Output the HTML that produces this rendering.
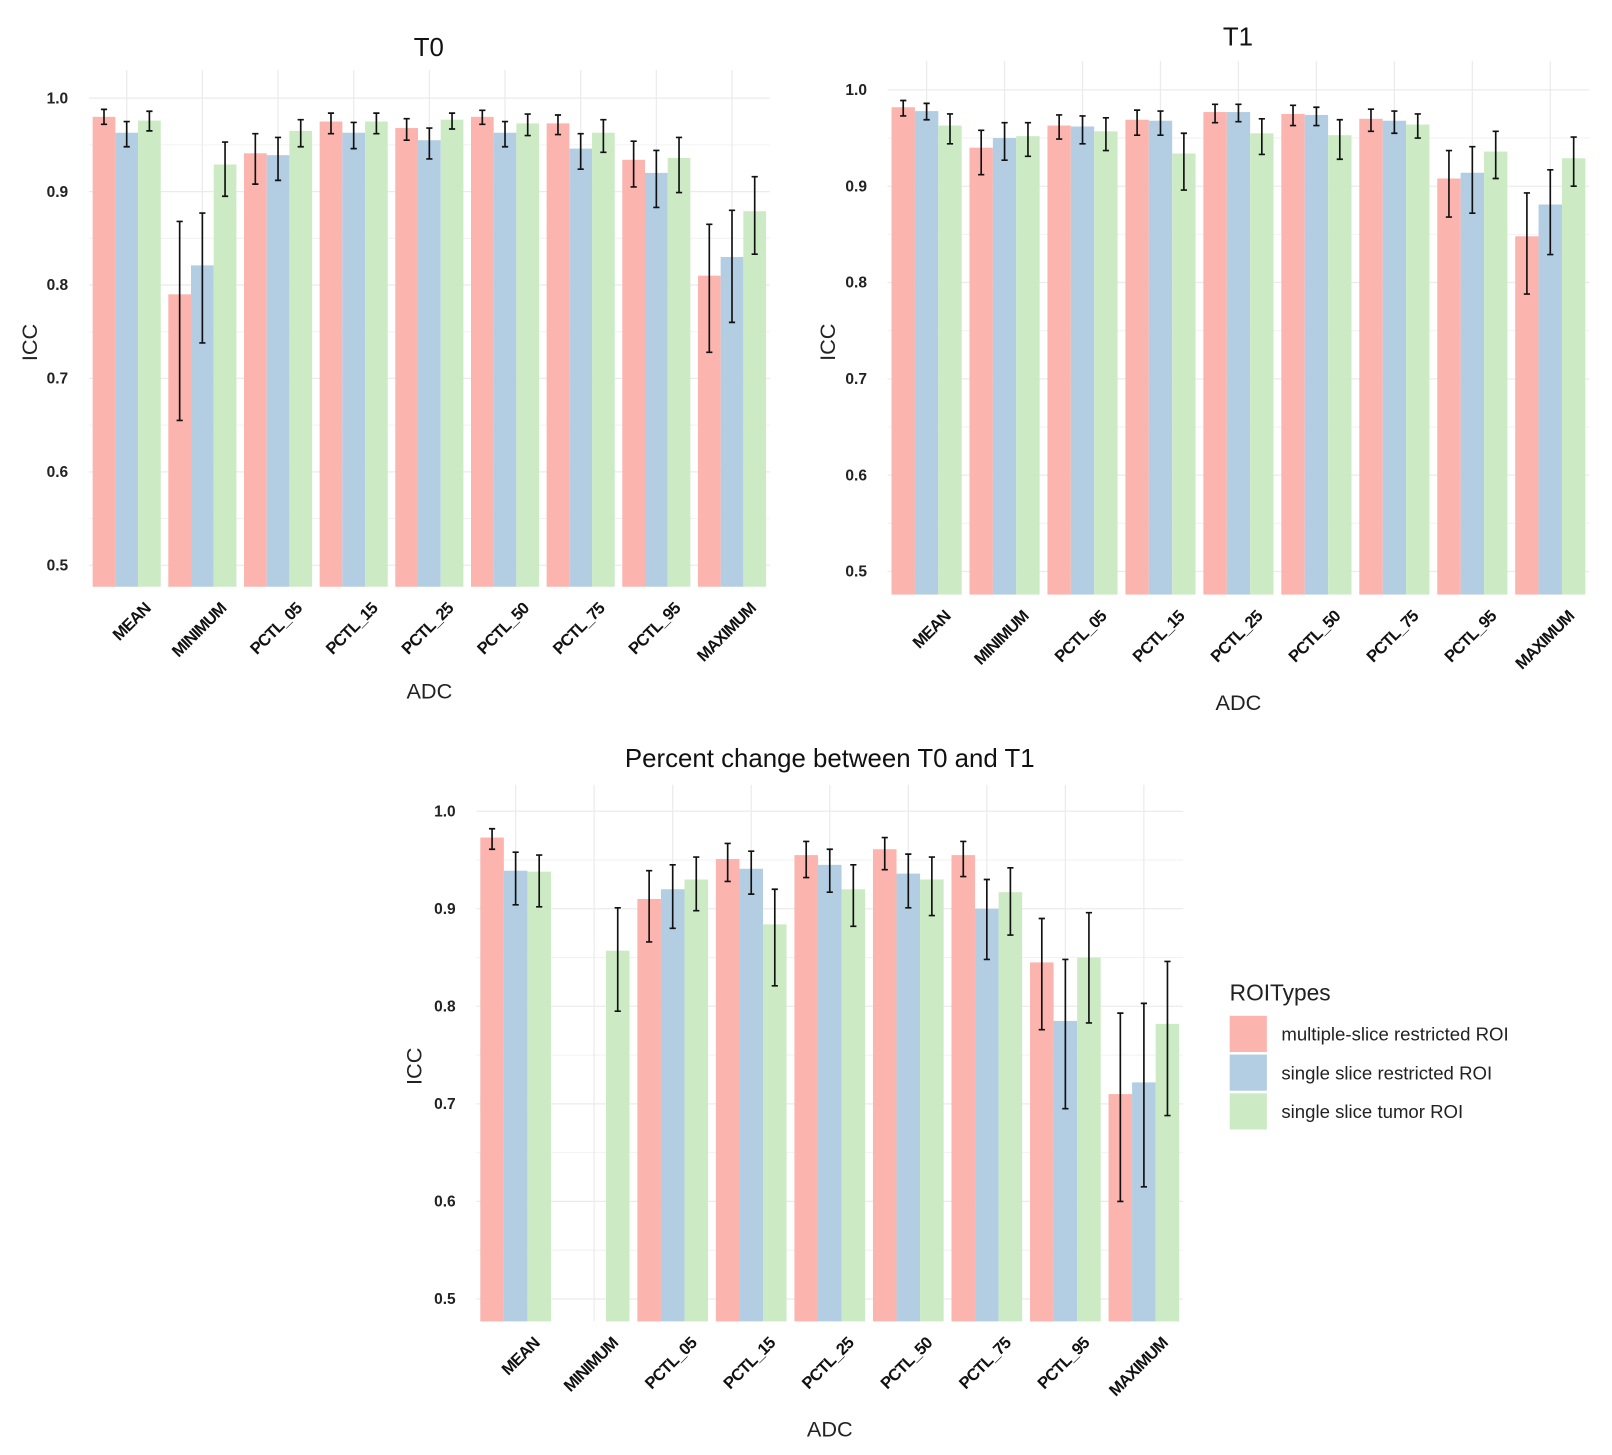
<!DOCTYPE html>
<html><head><meta charset="utf-8"><style>
html,body{margin:0;padding:0;background:#fff;}
svg{display:block;font-family:"Liberation Sans",sans-serif;}
</style></head><body>
<svg id="chart" width="1612" height="1455" viewBox="0 0 1560 1408" preserveAspectRatio="none" xmlns="http://www.w3.org/2000/svg"></svg>
<script>
const categories = ["MEAN","MINIMUM","PCTL_05","PCTL_15","PCTL_25","PCTL_50","PCTL_75","PCTL_95","MAXIMUM"];
const seriesNames = ["multiple-slice restricted ROI","single slice restricted ROI","single slice tumor ROI"];
const yTicks = [0.5,0.6,0.7,0.8,0.9,1.0];
const yTickLabels = ["0.5","0.6","0.7","0.8","0.9","1.0"];
// T0
const t0Multi = [0.980,0.790,0.941,0.975,0.968,0.980,0.973,0.934,0.810];
const t0MultiLo = [0.972,0.655,0.908,0.962,0.955,0.972,0.961,0.905,0.728];
const t0MultiHi = [0.988,0.868,0.962,0.984,0.978,0.987,0.982,0.954,0.865];
const t0SingleR = [0.963,0.821,0.939,0.963,0.955,0.963,0.946,0.920,0.830];
const t0SingleRLo = [0.948,0.738,0.912,0.946,0.935,0.948,0.924,0.883,0.760];
const t0SingleRHi = [0.975,0.877,0.958,0.974,0.968,0.975,0.962,0.944,0.880];
const t0Tumor = [0.976,0.929,0.965,0.975,0.977,0.973,0.963,0.936,0.879];
const t0TumorLo = [0.965,0.895,0.948,0.962,0.967,0.960,0.942,0.899,0.833];
const t0TumorHi = [0.986,0.953,0.977,0.984,0.984,0.983,0.977,0.958,0.916];
// T1
const t1Multi = [0.982,0.940,0.963,0.969,0.977,0.975,0.970,0.908,0.848];
const t1MultiLo = [0.973,0.912,0.949,0.953,0.966,0.963,0.957,0.868,0.788];
const t1MultiHi = [0.989,0.958,0.974,0.979,0.985,0.984,0.980,0.937,0.893];
const t1SingleR = [0.978,0.950,0.962,0.968,0.977,0.974,0.968,0.914,0.881];
const t1SingleRLo = [0.969,0.927,0.944,0.953,0.967,0.963,0.955,0.872,0.829];
const t1SingleRHi = [0.986,0.966,0.973,0.978,0.985,0.982,0.978,0.941,0.917];
const t1Tumor = [0.963,0.952,0.957,0.934,0.955,0.953,0.964,0.936,0.929];
const t1TumorLo = [0.944,0.931,0.937,0.896,0.933,0.928,0.950,0.908,0.900];
const t1TumorHi = [0.975,0.966,0.971,0.955,0.970,0.969,0.975,0.957,0.951];
// Percent change
const pcMulti = [0.973,null,0.910,0.951,0.955,0.961,0.955,0.845,0.710];
const pcMultiLo = [0.961,null,0.866,0.928,0.932,0.940,0.933,0.776,0.600];
const pcMultiHi = [0.982,null,0.939,0.967,0.969,0.973,0.969,0.890,0.793];
const pcSingleR = [0.939,null,0.920,0.941,0.945,0.936,0.900,0.785,0.722];
const pcSingleRLo = [0.904,null,0.880,0.915,0.917,0.901,0.848,0.695,0.615];
const pcSingleRHi = [0.958,null,0.945,0.959,0.961,0.956,0.930,0.848,0.803];
const pcTumor = [0.938,0.857,0.930,0.884,0.920,0.930,0.917,0.850,0.782];
const pcTumorLo = [0.902,0.795,0.898,0.821,0.882,0.893,0.873,0.783,0.688];
const pcTumorHi = [0.955,0.901,0.953,0.920,0.945,0.953,0.942,0.896,0.846];

const colors = ["#fbb4ae","#b3cde3","#ccebc5"];
const NS = "http://www.w3.org/2000/svg";
const svg = document.getElementById("chart");
function mk(tag, attrs, parent){const e=document.createElementNS(NS,tag);for(const k in attrs)e.setAttribute(k,attrs[k]);(parent||svg).appendChild(e);return e;}

function panel(opt){
  const g = mk("g",{});
  
  
  const y = v => opt.y1 - (v-1)*opt.ppu;
  const yTop = y(opt.vTop), yBot = y(opt.vBot);
  const band = (opt.x1-opt.x0)/categories.length;
  const xc = i => opt.x0 + band*(i+0.5);
  for (let k=0;k<yTicks.length;k++){
    const v=yTicks[k];
    const l=mk("line",{x1:opt.x0,x2:opt.x1,y1:y(v),y2:y(v),stroke:"#ebebeb","stroke-width":1.2},g);
    
    
    if (k<yTicks.length-1){
      const m=mk("line",{x1:opt.x0,x2:opt.x1,y1:y(v+0.05),y2:y(v+0.05),stroke:"#f2f2f2","stroke-width":1},g);
      
      
    }
    const t=mk("text",{x:opt.x0-20,y:y(v)+5,"text-anchor":"end","font-size":15,"font-weight":"bold",fill:"#222"},g);
    t.textContent=yTickLabels[k];
    
    
  }
  categories.forEach((c,i)=>{
    const l=mk("line",{x1:xc(i),x2:xc(i),y1:yTop,y2:yBot,stroke:"#ebebeb","stroke-width":1.2},g);
    
    
  });
  const bw = band*0.9/3;
  opt.series.forEach((s,si)=>{
    s.v.forEach((v,i)=>{
      if (v==null) return;
      const bx = xc(i)-band*0.45+bw*si;
      const r=mk("rect",{x:bx,y:y(v),width:bw,height:yBot-y(v),fill:colors[si]},g);
      
      
    });
  });
  opt.series.forEach((s,si)=>{
    s.v.forEach((v,i)=>{
      if (v==null) return;
      const cx = xc(i)-band*0.45+bw*si+bw*0.5;
      const e=mk("path",{d:`M${cx-3},${y(s.hi[i])}H${cx+3}M${cx},${y(s.hi[i])}V${y(s.lo[i])}M${cx-3},${y(s.lo[i])}H${cx+3}`,stroke:"#111","stroke-width":1.6,fill:"none"},g);
      
      
    });
  });
  categories.forEach((c,i)=>{
    const ex=xc(i)+24, ey=yBot+22;
    const t=mk("text",{x:ex,y:ey,"text-anchor":"end","font-size":16,"font-weight":"bold","letter-spacing":"-0.8",fill:"#111",transform:`rotate(-45 ${ex} ${ey})`},g);
    t.textContent=c;
    
    
  });
  const tt=mk("text",{x:opt.titleX,y:opt.titleY,"text-anchor":"middle","font-size":25,fill:"#111"},g);
  tt.textContent=opt.title;
  
  
  const xa=mk("text",{x:(opt.x0+opt.x1)/2,y:opt.xTitleY,"text-anchor":"middle","font-size":21,fill:"#222"},g);
  xa.textContent="ADC";
  
  
  const ya=mk("text",{x:opt.yTitleX,y:(y(1)+yBot)/2,"text-anchor":"middle","font-size":21,fill:"#222",transform:`rotate(-90 ${opt.yTitleX} ${(y(1)+yBot)/2})`},g);
  ya.textContent="ICC";
  
  
}

panel({name:"panel-t0",title:"T0",titleX:415,titleY:54,x0:86,x1:745,y1:95,ppu:904,vTop:1.03,vBot:0.477,xTitleY:676,yTitleX:36,
  series:[{v:t0Multi,lo:t0MultiLo,hi:t0MultiHi},{v:t0SingleR,lo:t0SingleRLo,hi:t0SingleRHi},{v:t0Tumor,lo:t0TumorLo,hi:t0TumorHi}]});
panel({name:"panel-t1",title:"T1",titleX:1198,titleY:44,x0:859,x1:1538,y1:87,ppu:932,vTop:1.03,vBot:0.476,xTitleY:687,yTitleX:808,
  series:[{v:t1Multi,lo:t1MultiLo,hi:t1MultiHi},{v:t1SingleR,lo:t1SingleRLo,hi:t1SingleRHi},{v:t1Tumor,lo:t1TumorLo,hi:t1TumorHi}]});
panel({name:"panel-percent-change",title:"Percent change between T0 and T1",titleX:803,titleY:742,x0:461,x1:1145,y1:785,ppu:944,vTop:1.027,vBot:0.477,xTitleY:1390,yTitleX:408,
  series:[{v:pcMulti,lo:pcMultiLo,hi:pcMultiHi},{v:pcSingleR,lo:pcSingleRLo,hi:pcSingleRHi},{v:pcTumor,lo:pcTumorLo,hi:pcTumorHi}]});

const lg = mk("g",{});


const lt = mk("text",{x:1190,y:968,"font-size":22,fill:"#222"},lg);
lt.textContent="ROITypes";


seriesNames.forEach((n,i)=>{
  const ky=983+i*37.5;
  const r=mk("rect",{x:1190,y:ky,width:36,height:35,fill:colors[i]},lg);
  
  
  const t=mk("text",{x:1240,y:ky+24,"font-size":18,fill:"#222"},lg);
  t.textContent=n;
  
  
});
</script>
</body></html>
